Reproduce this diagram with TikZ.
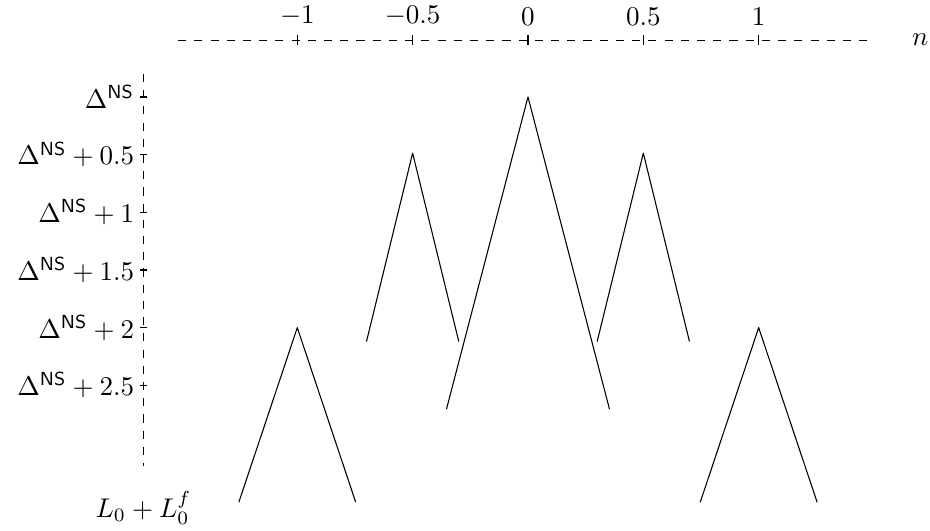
\documentclass[tikz,border=0pt]{standalone}
\usepackage{amsfonts,amsmath,amssymb}
\usetikzlibrary{arrows.meta}
\tikzset{
  every picture/.style={line join=round, >=Stealth},
  tick/.style={line width=0.4pt},
}

\begin{document}
\begin{tikzpicture}
\useasboundingbox (-6.866,-5.644) rectangle (5.228,1.261);
% axes
\draw[dashed](-4.55,0.74)--(4.5,0.74);
\draw[dashed](-5,0.3)--(-5,-4.8);
\node (n) at (5.1,0.74) {$n$};
\foreach \n/\lab in {-1/{$-1$},-0.5/{$-0.5$},0/{$0$},0.5/{$0.5$},1/{$1$}}
  \draw[tick](3*\n,0.68)--(3*\n,0.8)node[above]{\lab};
\foreach \k/\lab in {0/{},1/{+0.5},2/{+1},3/{+1.5},4/{+2},5/{+2.5}}
  \draw[tick](-4.95,-0.75*\k)--(-5.05,-0.75*\k)node[left,xshift=1.5pt]{$\Delta^{\mathsf{NS}}\lab$};
\node (base) at (-5,-5.34) {$L_0+L_0^f$};
% peaks
\foreach \x/\top/\w/\bot in {0/0/1.06/-4.06,-1.5/-0.73/0.6/-3.18,1.5/-0.73/0.6/-3.18,-3/-3/0.76/-5.27,3/-3/0.76/-5.27}
  \draw(\x-\w,\bot)--(\x,\top)--(\x+\w,\bot);
\end{tikzpicture}
\end{document}
